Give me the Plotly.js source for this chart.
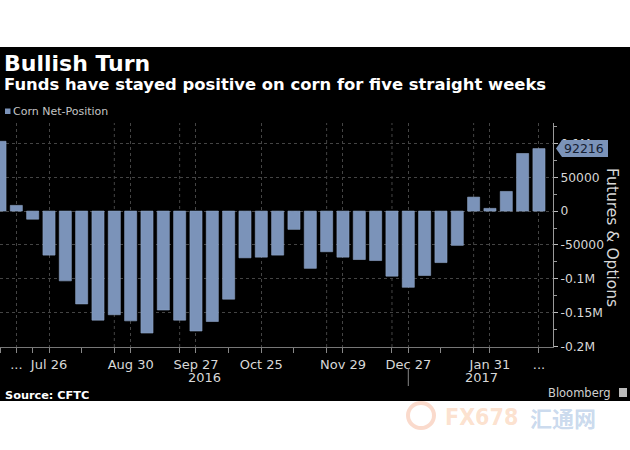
<!DOCTYPE html>
<html><head><meta charset="utf-8">
<script src="https://cdn.plot.ly/plotly-3.0.1.min.js"></script>
<style>html,body{margin:0;padding:0;background:#fff;}#chart{width:630px;height:450px;}</style>
</head><body><div id="chart"></div>
<script>
// ---- data ----
const weeks = ['2016-07-05','2016-07-12','2016-07-19','2016-07-26','2016-08-02','2016-08-09','2016-08-16','2016-08-23','2016-08-30','2016-09-06','2016-09-13','2016-09-20','2016-09-27','2016-10-04','2016-10-11','2016-10-18','2016-10-25','2016-11-01','2016-11-08','2016-11-15','2016-11-22','2016-11-29','2016-12-06','2016-12-13','2016-12-20','2016-12-27','2017-01-03','2017-01-10','2017-01-17','2017-01-24','2017-01-31','2017-02-07','2017-02-14','2017-02-21'];
const netPosition = [103000, 8400, -12000, -65000, -103000, -137000, -161000, -153000, -162000, -180000, -146000, -161000, -177000, -163000, -130000, -69000, -68000, -65000, -27000, -84500, -60000, -68000, -71500, -73000, -96000, -112500, -95000, -76000, -50600, 20600, 4000, 29000, 85000, 92216];
const tickWeeks = ['2016-07-12','2016-07-26','2016-08-30','2016-09-27','2016-10-25','2016-11-29','2016-12-27','2017-01-31','2017-02-21'];
const tickLabels = ['...','Jul 26','Aug 30','Sep 27','Oct 25','Nov 29','Dec 27','Jan 31','...'];
const minorTickWeeks = ['2016-07-05','2016-07-19','2016-08-09','2016-08-23','2016-09-20','2016-10-11','2016-11-08','2016-11-22','2016-12-20','2017-01-10','2017-01-24'];
const extraGridWeeks = ['2016-08-23','2016-09-20','2016-11-22','2016-12-20','2017-01-24'];
const yTickVals = [100000, 50000, 0, -50000, -100000, -150000, -200000];
const yTickText = ['0.1M','50000','0','-50000','-0.1M','-0.15M','-0.2M'];
const years = ['2016','2017'];
const yearBoundaryWeek = '2016-12-27';
const lastValue = netPosition[netPosition.length - 1];

// ---- layout helpers (pixel -> paper) ----
const W = 630, H = 450, ML = 0, MR = 77, MT = 123, MB = 103;
const PW = W - ML - MR, PH = H - MT - MB;
const px2x = p => (p - ML) / PW;
const py2y = p => (H - MB - p) / PH;
const idx = w => weeks.indexOf(w);
const Y0 = -200600, Y1 = 130000;
const perPx = (Y1 - Y0) / PH;

const barColor = '#7b93b9';
const font = 'DejaVu Sans, sans-serif';

const trace = {
  type: 'bar',
  x: weeks.map((w, i) => i),
  y: netPosition,
  marker: {color: barColor, line: {color: '#8ea4c6', width: 0.6}},
  width: 0.74,
  hoverinfo: 'none'
};

const shapes = [
  {type: 'rect', xref: 'paper', yref: 'paper', x0: -0.01, x1: 1.2, y0: py2y(401), y1: py2y(47),
   fillcolor: '#000', line: {width: 0}, layer: 'below'},
  // legend square
  {type: 'rect', xref: 'paper', yref: 'paper', x0: px2x(5), x1: px2x(10.5), y0: py2y(114), y1: py2y(108.5),
   fillcolor: barColor, line: {width: 0}},
  // year separator
  {type: 'line', xref: 'x', yref: 'paper', x0: idx(yearBoundaryWeek), x1: idx(yearBoundaryWeek),
   y0: py2y(368), y1: py2y(386), line: {color: '#888', width: 1}},
  // bloomberg icon
  {type: 'rect', xref: 'paper', yref: 'paper', x0: px2x(619), x1: px2x(627), y0: py2y(397), y1: py2y(388),
   fillcolor: '#bbb', line: {width: 0}},
  // watermark circle
  {type: 'circle', xref: 'paper', yref: 'paper', x0: px2x(408), x1: px2x(434), y0: py2y(428), y1: py2y(403),
   line: {color: 'rgba(240,150,110,0.35)', width: 4}}
];
extraGridWeeks.forEach(w => shapes.push({type: 'line', xref: 'x', yref: 'paper', x0: idx(w), x1: idx(w), y0: 0, y1: 1,
  line: {color: '#444', width: 1, dash: 'dot'}, layer: 'below'}));

// value tag
const hh = 8.5 * perPx;
const tx = [px2x(556), px2x(562), px2x(608)];
shapes.push({type: 'path', xref: 'paper', yref: 'y', layer: 'above',
  path: `M${tx[0]},${lastValue} L${tx[1]},${lastValue + hh} L${tx[2]},${lastValue + hh} L${tx[2]},${lastValue - hh} L${tx[1]},${lastValue - hh} Z`,
  fillcolor: barColor, line: {width: 0}});

const annotations = [
  {text: '<b>Bullish Turn</b>', xref: 'paper', yref: 'paper', x: px2x(2), y: py2y(63), xanchor: 'left', yanchor: 'middle',
   showarrow: false, font: {family: font, size: 22, color: '#fff'}},
  {text: '<b>Funds have stayed positive on corn for five straight weeks</b>', xref: 'paper', yref: 'paper', x: px2x(2), y: py2y(85),
   xanchor: 'left', yanchor: 'middle', showarrow: false, font: {family: font, size: 16.4, color: '#fff'}},
  {text: 'Corn Net-Position', xref: 'paper', yref: 'paper', x: px2x(11), y: py2y(111.5), xanchor: 'left', yanchor: 'middle',
   showarrow: false, font: {family: font, size: 11, color: '#c4c4c4'}},
  {text: 'Futures & Options', xref: 'paper', yref: 'paper', x: px2x(612), y: py2y(237), xanchor: 'center', yanchor: 'middle',
   textangle: 90, showarrow: false, font: {family: font, size: 15.5, color: '#d8d8d8'}},
  {text: String(lastValue), xref: 'paper', yref: 'y', x: px2x(584), y: lastValue, xanchor: 'center', yanchor: 'middle',
   showarrow: false, font: {family: font, size: 12.5, color: '#152033'}},
  {text: years[0], xref: 'paper', yref: 'paper', x: px2x(204), y: py2y(377.5), xanchor: 'center', yanchor: 'middle',
   showarrow: false, font: {family: font, size: 13, color: '#d8d8d8'}},
  {text: years[1], xref: 'paper', yref: 'paper', x: px2x(481), y: py2y(377.5), xanchor: 'center', yanchor: 'middle',
   showarrow: false, font: {family: font, size: 13, color: '#d8d8d8'}},
  {text: '<b>Source: CFTC</b>', xref: 'paper', yref: 'paper', x: px2x(3), y: py2y(395), xanchor: 'left', yanchor: 'middle',
   showarrow: false, font: {family: font, size: 11.3, color: '#fff'}},
  {text: 'Bloomberg', xref: 'paper', yref: 'paper', x: px2x(613), y: py2y(392.5), xanchor: 'right', yanchor: 'middle',
   showarrow: false, font: {family: font, size: 11.5, color: '#d0d0d0'}},
  {text: '<b>FX678</b>', xref: 'paper', yref: 'paper', x: px2x(443), y: py2y(417), xanchor: 'left', yanchor: 'middle',
   showarrow: false, font: {family: 'DejaVu Sans Condensed, sans-serif', size: 23, color: 'rgba(248,180,130,0.4)'}},
  {text: '<b>汇通网</b>', xref: 'paper', yref: 'paper', x: px2x(528), y: py2y(417), xanchor: 'left', yanchor: 'middle',
   showarrow: false, font: {family: 'Noto Sans CJK SC, sans-serif', size: 22, color: 'rgba(120,160,210,0.4)'}}
];

const layout = {
  width: W, height: H,
  margin: {l: ML, r: MR, t: MT, b: MB, pad: 0},
  paper_bgcolor: '#fff', plot_bgcolor: '#000',
  showlegend: false,
  bargap: 0.26,
  xaxis: {
    range: [0, 33.86], fixedrange: true, zeroline: false,
    tickmode: 'array', tickvals: tickWeeks.map(idx), ticktext: tickLabels,
    ticks: 'outside', ticklen: 5, tickcolor: '#888', tickwidth: 1,
    showgrid: true, gridcolor: '#444', griddash: 'dot', gridwidth: 1,
    showline: true, linecolor: '#777', linewidth: 1,
    tickfont: {family: font, size: 13, color: '#d8d8d8'},
    minor: {tickmode: 'array', tickvals: minorTickWeeks.map(idx), ticks: 'outside', ticklen: 5, tickcolor: '#888', showgrid: false}
  },
  yaxis: {
    side: 'right', range: [Y0, Y1], fixedrange: true,
    tickmode: 'array', tickvals: yTickVals, ticktext: yTickText,
    ticks: 'outside', ticklen: 4, tickcolor: '#bbb', tickwidth: 1,
    showgrid: true, gridcolor: '#444', griddash: 'dot', gridwidth: 1,
    zeroline: false, showline: true, linecolor: '#9a9a9a', linewidth: 1,
    tickfont: {family: font, size: 12.3, color: '#d8d8d8'},
    minor: {dtick: 25000, tick0: 0, ticks: 'outside', ticklen: 3, tickcolor: '#999', showgrid: false}
  },
  shapes: shapes,
  annotations: annotations
};

Plotly.newPlot('chart', [trace], layout, {displayModeBar: false, staticPlot: true});
</script>
</body></html>
